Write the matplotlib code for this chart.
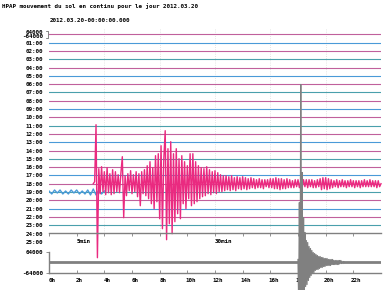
import numpy as np
import matplotlib
matplotlib.use("Agg")
import matplotlib.pyplot as plt
from matplotlib.lines import Line2D
from matplotlib.transforms import ScaledTranslation

# ---------------- data ----------------
title = "HPAP mouvement du sol en continu pour le jour 2012.03.20"
start_label = "2012.03.20-00:00:00.000"
row_labels = ["%02d:00" % h for h in range(1, 26)]       # 01:00 .. 25:00
row_hours = list(range(0, 24))                              # helicorder rows
x_hour_ticks = list(range(0, 24, 2))
x_hour_labels = ["%dh" % h for h in x_hour_ticks]
amp_labels = ["64000", "-64000"]
amp_ticks = [64000, -64000]

# Row 18 (18:00) earthquake trace, amplitude in display pixels (1 row = 8.3 px),
# sampled every 0.25 min starting at minute 8.0
ev18_start_min = 8.0
ev18_step_min = 0.25
ev18_amp = [0, 2, 59, -74, 15, -10, 17, -8, 12, -11,
            16, -9, 10, -11, 14, -10, 12, -8, 9, -9,
            11, 27, -34, 8, -12, 10, -7, 13, -10, 9,
            -8, 12, -13, 10, -22, 12, -10, 14, -12, 18,
            -15, 22, -20, 16, -25, 28, -18, 30, -35, 38,
            -45, 25, 53, -56, 35, -40, 42, -50, 30, -38,
            35, -30, 25, -35, 28, -20, 22, -25, 18, -15,
            30, -22, 30, -20, 22, -18, 18, -15, 16, -13,
            15, -12, 17, -10, 14, -11, 12, -9, 13, -10,
            11, -8, 9, -8, 8, -7, 8, -6, 7, -7,
            8, -6, 6, -7, 7, -5, 6, -6, 7, -5,
            6, -6, 5, -5, 6, -4, 5,
            -5, 4, -4, 5, -4, 4, -5, 4, -3, 4, -4, 5, -4,
            5, -5, 6, -5, 5, -6, 5, -5, 4, -5, 5, -4, 4,
            -4, 3, -4, 4, -3, 4, -4, 3, -4, 4, -3, 4, -4, 4, -3, 4, -4, 3, -4, 4, -3,
            5, -6, 6, -5, 6, -6, 5, -5, 4,
            -4, 3, -3, 4, -4, 3, -3, 4, -3, 3, -4, 3, -3, 4, -3, 3, -4, 3,
            -3, 3, -4, 3, -3, 4, -3, 3, -3, 4, -3, 3, -3, 3, -4, 3, -3, 0]

# Row 19 (19:00) background noise before the event, every 0.5 min from minute 0
r19_step_min = 0.5
r19_amp = [1, -2, 2, -1, 2, -2, 1, -2, 2, -1, 2, -2, 1, -2, 2, -3, 3, -3, 2, -2, 1]

# Day trace (bottom panel), amplitude in display pixels (1 px = 6095 counts),
# sampled every 0.05 h from 18.0 h
day_ev_start_h = 18.0
day_ev_step_h = 0.05
day_ev_amp = [3, -40, 60, -45, 178, -60, 90, -50, 45, -40,
              30, -24, 22, -22, 20, -18, 16, -15, 14, -13,
              12, -11, 10, -10, 9, -8, 8, -7, 7, -7,
              6, -6, 6, -5, 5, -5, 5, -4, 4, -4,
              4, -3, 4, -3, 3, -3, 3, -3, 3, -2,
              3, -2, 2, -2, 2, -2, 2, -2, 2, -2,
              2, -1, 2, -1, 1, -1, 1, 0]

# ---------------- style ----------------
W, H, DPI = 383, 290, 100
ROW_PX = 8.3
DAY_COUNTS_PER_PX = 6095
PINK = "#c0609c"
BLUE = "#4a9ad8"
TEAL = "#4aa0ac"
EVENT = "#ea2a80"
GRAY = "#808080"
FONT = dict(family="DejaVu Sans Mono", weight="bold", size=4.2)

fig = plt.figure(figsize=(W / DPI, H / DPI), dpi=DPI)
fig.patch.set_facecolor("white")

def fx(px):
    return px / W

def fy(py):
    return 1 - py / H

# top helicorder axes: row k at pixel y = 34.3 + 8.3 k ; x 49..381 px = 0..60 min
top_px, bot_px = 26, 250
ax = fig.add_axes([fx(49), fy(bot_px), fx(381) - fx(49), fy(top_px) - fy(bot_px)])
ax.set_facecolor("none")
ax.set_xlim(0, 60)
ax.set_ylim((bot_px - 34.3) / ROW_PX, (top_px - 34.3) / ROW_PX)
for s in ax.spines.values():
    s.set_visible(False)
ax.set_xticks([])
ax.set_yticks(range(1, 26))
ax.set_yticklabels(row_labels, **FONT)
ax.tick_params(axis="y", length=0, pad=4.3)

ax.vlines(range(10, 60, 10), -0.6, 24, colors="#dcdcdc", linestyles=":", lw=0.6, zorder=0)

for h in row_hours:
    if h % 2 == 0:
        c = PINK
    else:
        c = BLUE if (h // 2) % 2 == 0 else TEAL
    ax.axhline(h, color=c, lw=0.8, zorder=1)

# row 19 noise
t19 = np.arange(len(r19_amp)) * r19_step_min
ax.plot(t19, 19 - np.array(r19_amp) / ROW_PX, color=BLUE, lw=1.0, zorder=2)

# row 18 event
t18 = ev18_start_min + np.arange(len(ev18_amp)) * ev18_step_min
ax.plot(t18, 18 - np.array(ev18_amp) / ROW_PX, color=EVENT, lw=1.0, zorder=3,
        clip_on=False)

ax.text(5, 25, "5min", ha="left", va="center", **FONT)
ax.text(30, 25, "30min", ha="left", va="center", **FONT)

# bottom day axes
ax2 = fig.add_axes([fx(49), fy(273), fx(381) - fx(49), fy(233) - fy(273)])
ax2.set_facecolor("none")
ax2.set_xlim(0, 24)
ax2.set_ylim(-64000, 179800)
ax2.spines["right"].set_visible(False)
for k in ("top", "bottom", "left"):
    ax2.spines[k].set_color(GRAY)
    ax2.spines[k].set_linewidth(1.0)
ax2.spines["left"].set_bounds(-64000, 64000)
ax2.set_yticks(amp_ticks)
ax2.set_yticklabels(amp_labels, **FONT)
ax2.tick_params(axis="y", length=2, width=0.6, color=GRAY, pad=2.5)
ax2.set_xticks(x_hour_ticks)
ax2.set_xticklabels(x_hour_labels, **FONT)
ax2.tick_params(axis="x", direction="in", length=2, width=0.6, color=GRAY,
                top=True, pad=3.5)
for lab in ax2.get_xticklabels():
    lab.set_transform(lab.get_transform() + ScaledTranslation(3 / DPI, 0, fig.dpi_scale_trans))

ax2.axhline(0, xmax=day_ev_start_h / 24, color=GRAY, lw=2.0, zorder=2)
t_day = day_ev_start_h + np.arange(len(day_ev_amp)) * day_ev_step_h
ax2.plot(t_day, np.array(day_ev_amp) * DAY_COUNTS_PER_PX, color=GRAY, lw=0.9,
         zorder=4, clip_on=False)
ax2.plot([t_day[-1], 24], [0, 0], color=GRAY, lw=2.0, zorder=2)

# header texts
fig.text(fx(2), fy(6), title, ha="left", va="center", **FONT)
fig.text(fx(50), fy(21), start_label, ha="left", va="center", **FONT)
fig.text(fx(43), fy(32), "64000", ha="right", va="center", **FONT)
fig.text(fx(43), fy(36.8), "-64000", ha="right", va="center", **FONT)
fig.add_artist(Line2D([fx(46), fx(48), fx(48), fx(46)],
                      [fy(30.5), fy(30.5), fy(38), fy(38)],
                      transform=fig.transFigure, color="#555555", lw=0.5))

fig.savefig("out.png", dpi=DPI)
